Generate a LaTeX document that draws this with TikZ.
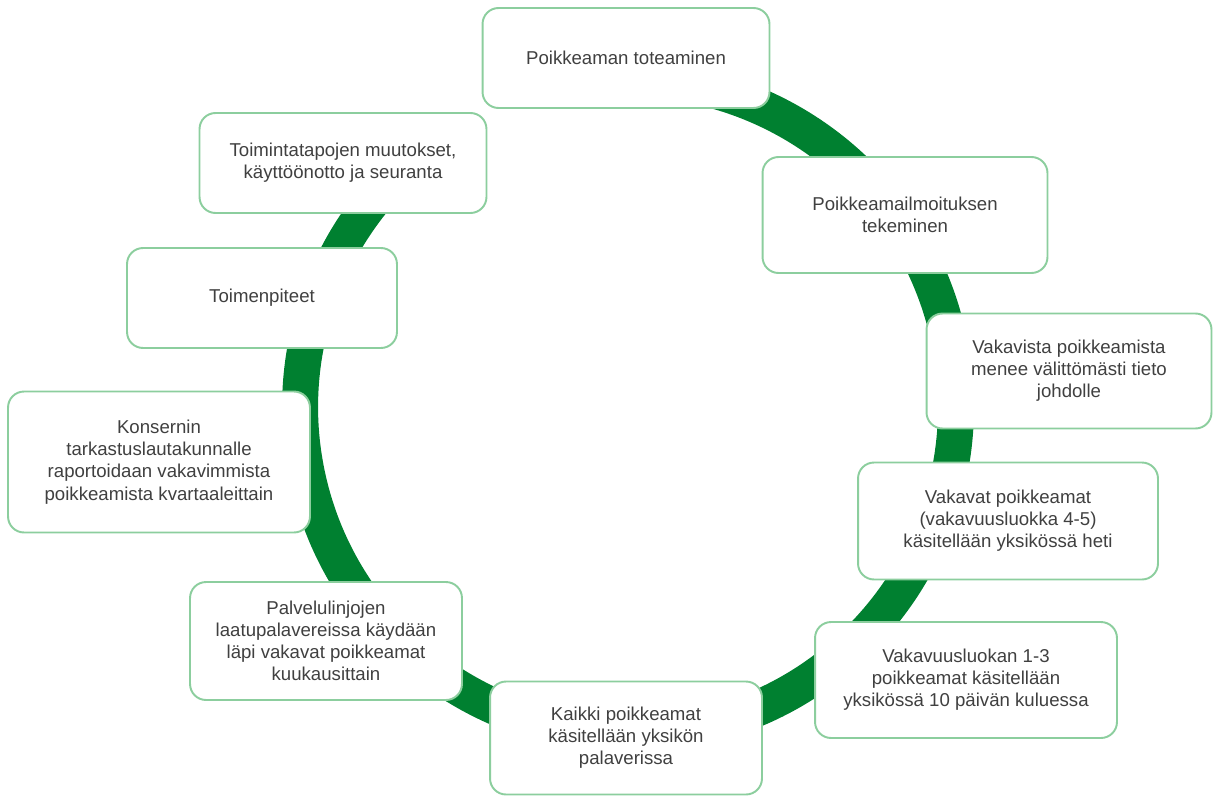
\documentclass[tikz,border=0pt]{standalone}
\usepackage{fontspec}
\setmainfont{Liberation Sans}
\definecolor{ringgreen}{RGB}{0,128,48}
\definecolor{boxedge}{RGB}{140,206,158}
\definecolor{textgray}{RGB}{64,64,64}

\begin{document}
\begin{tikzpicture}[x=0.02cm,y=-0.02cm,
    stage/.style={draw=boxedge,line width=1.1pt,fill=white,rounded corners=0.32cm,
      align=center,text=textgray,font=\fontsize{10.6}{12.6}\selectfont,inner sep=2pt}]
    \useasboundingbox (0,0) rectangle (1213,798);
    % the cycle ring behind the boxes, open between the last and the first box
    \coordinate (hub) at (628,407);
    \draw [ringgreen,line width=0.72cm] (hub) ++(100:6.56cm) arc [start angle=100,end angle=-235,radius=6.56cm];
    \node [stage,minimum width=5.74cm,minimum height=2cm] (toteaminen) at (626,58) {Poikkeaman toteaminen};
    \node [stage,minimum width=5.7cm,minimum height=2.32cm] (ilmoitus) at (905,215) {Poikkeamailmoituksen\\tekeminen};
    \node [stage,minimum width=5.7cm,minimum height=2.3cm] (johdolle) at (1069,371) {Vakavista poikkeamista\\menee välittömästi tieto\\johdolle};
    \node [stage,minimum width=6cm,minimum height=2.34cm] (heti) at (1008,521) {Vakavat poikkeamat\\(vakavuusluokka 4-5)\\käsitellään yksikössä heti};
    \node [stage,minimum width=6.04cm,minimum height=2.32cm] (kymmenen) at (966,680) {Vakavuusluokan 1-3\\poikkeamat käsitellään\\yksikössä 10 päivän kuluessa};
    \node [stage,minimum width=5.44cm,minimum height=2.26cm] (palaveri) at (626,738) {Kaikki poikkeamat\\käsitellään yksikön\\palaverissa};
    \node [stage,minimum width=5.44cm,minimum height=2.36cm] (laatu) at (326,641) {Palvelulinjojen\\laatupalavereissa käydään\\läpi vakavat poikkeamat\\kuukausittain};
    \node [stage,minimum width=6.04cm,minimum height=2.82cm] (konserni) at (159,462) {Konsernin\\tarkastuslautakunnalle\\raportoidaan vakavimmista\\poikkeamista kvartaaleittain};
    \node [stage,minimum width=5.4cm,minimum height=2cm] (toimenpiteet) at (262,298) {Toimenpiteet};
    \node [stage,minimum width=5.74cm,minimum height=2cm] (muutokset) at (343,163) {Toimintatapojen muutokset,\\käyttöönotto ja seuranta};
\end{tikzpicture}
\end{document}
